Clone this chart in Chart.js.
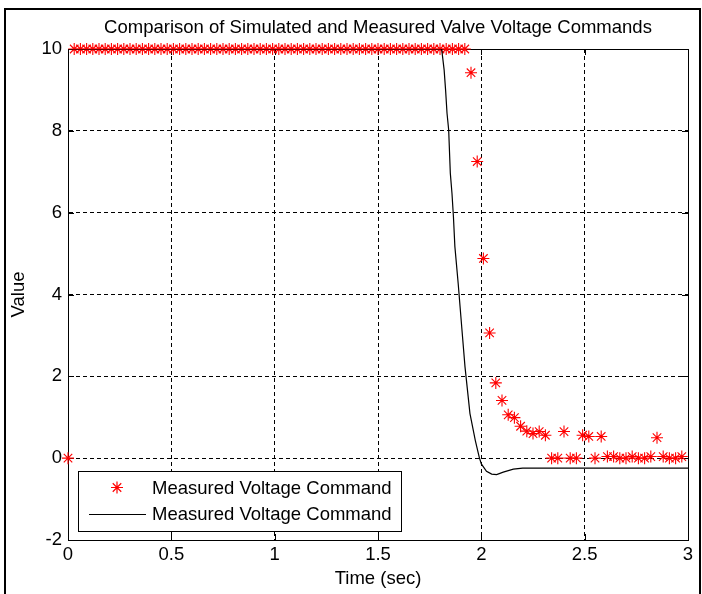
<!DOCTYPE html>
<html><head><meta charset="utf-8">
<script src="https://cdn.jsdelivr.net/npm/chart.js@4.4.1/dist/chart.umd.min.js"></script>
<style>
html,body{margin:0;padding:0;background:#fff;width:702px;height:594px;overflow:hidden;}
#wrap{position:relative;width:702px;height:594px;}
#frame{position:absolute;left:4px;top:8px;width:697px;height:600px;box-sizing:border-box;border:2px solid #000;border-bottom:none;pointer-events:none;}
canvas{position:absolute;left:0;top:0;}
</style></head>
<body><div id="wrap"><div id="frame"></div><canvas id="c" width="702" height="594"></canvas></div>
<script>
const titleText = 'Comparison of Simulated and Measured Valve Voltage Commands';
const xLabel = 'Time (sec)';
const yLabel = 'Value';
const legendLabels = ['Measured Voltage Command', 'Measured Voltage Command'];
const xTicks = [0, 0.5, 1, 1.5, 2, 2.5, 3];
const yTicks = [-2, 0, 2, 4, 6, 8, 10];

const measTime = [
  0,0.03,0.06,0.09,0.12,0.15,0.18,0.21,0.24,0.27,
  0.30,0.33,0.36,0.39,0.42,0.45,0.48,0.51,0.54,0.57,
  0.60,0.63,0.66,0.69,0.72,0.75,0.78,0.81,0.84,0.87,
  0.90,0.93,0.96,0.99,1.02,1.05,1.08,1.11,1.14,1.17,
  1.20,1.23,1.26,1.29,1.32,1.35,1.38,1.41,1.44,1.47,
  1.50,1.53,1.56,1.59,1.62,1.65,1.68,1.71,1.74,1.77,
  1.80,1.83,1.86,1.89,1.92,1.95,1.98,2.01,2.04,2.07,
  2.10,2.13,2.16,2.19,2.22,2.25,2.28,2.31,2.34,2.37,
  2.40,2.43,2.46,2.49,2.52,2.55,2.58,2.61,2.64,2.67,
  2.70,2.73,2.76,2.79,2.82,2.85,2.88,2.91,2.94,2.97
];
const measValue = [
  0,10,10,10,10,10,10,10,10,10,
  10,10,10,10,10,10,10,10,10,10,
  10,10,10,10,10,10,10,10,10,10,
  10,10,10,10,10,10,10,10,10,10,
  10,10,10,10,10,10,10,10,10,10,
  10,10,10,10,10,10,10,10,10,10,
  10,10,10,10,10,9.42,7.25,4.88,3.06,1.84,
  1.41,1.06,0.99,0.78,0.66,0.60,0.65,0.56,0,0,
  0.65,0,0,0.56,0.53,0,0.53,0.04,0.04,0,
  0,0.04,0,0,0.04,0.5,0.04,0,0,0.04
];

const simTime = [0,1.808,1.82,1.827,1.834,1.842,1.85,1.858,1.865,1.872,1.888,1.905,1.921,1.945,1.971,1.99,2.0,2.025,2.05,2.074,2.106,2.155,2.2,3.0];
const simValue = [10,10,9.49,9.0,8.43,8.02,6.96,6.47,5.9,5.17,4.27,3.21,2.23,1.09,0.43,0.02,-0.14,-0.32,-0.39,-0.40,-0.34,-0.27,-0.245,-0.245];

const FF = '"Liberation Sans", Arial, Helvetica, sans-serif';
const FS = 18.5;

function drawStar(ctx, x, y, r) {
  const d = r * Math.cos(Math.PI / 4);
  ctx.beginPath();
  ctx.moveTo(x - r, y); ctx.lineTo(x + r, y);
  ctx.moveTo(x, y - r); ctx.lineTo(x, y + r);
  ctx.moveTo(x - d, y - d); ctx.lineTo(x + d, y + d);
  ctx.moveTo(x - d, y + d); ctx.lineTo(x + d, y - d);
  ctx.stroke();
}

const boxPlugin = {
  id: 'matlabBox',
  beforeDatasetsDraw(chart) {
    const ctx = chart.ctx, ca = chart.chartArea;
    const xs = chart.scales.x, ys = chart.scales.y;
    ctx.save();
    ctx.strokeStyle = '#000';
    ctx.lineWidth = 1;
    ctx.setLineDash([]);
    ctx.strokeRect(Math.round(ca.left) + 0.5, Math.round(ca.top) + 0.5, Math.round(ca.right - ca.left), Math.round(ca.bottom - ca.top));
    const tl = 6;
    ctx.beginPath();
    xTicks.forEach(v => {
      const px = Math.round(xs.getPixelForValue(v)) + 0.5;
      ctx.moveTo(px, ca.bottom); ctx.lineTo(px, ca.bottom - tl);
      ctx.moveTo(px, ca.top); ctx.lineTo(px, ca.top + tl);
    });
    yTicks.forEach(v => {
      const py = Math.round(ys.getPixelForValue(v)) + 0.5;
      ctx.moveTo(ca.left, py); ctx.lineTo(ca.left + tl, py);
      ctx.moveTo(ca.right, py); ctx.lineTo(ca.right - tl, py);
    });
    ctx.stroke();
    ctx.restore();
  },
  afterDraw(chart) {
    const ctx = chart.ctx, ca = chart.chartArea;
    const x0 = Math.round(ca.left) + 10, w = 323, h = 60;
    const y1 = Math.round(ca.bottom) - 9, y0 = y1 - h;
    ctx.save();
    ctx.setLineDash([]);
    ctx.fillStyle = '#fff';
    ctx.fillRect(x0, y0, w, h);
    ctx.strokeStyle = '#000';
    ctx.lineWidth = 1;
    ctx.strokeRect(x0 + 0.5, y0 + 0.5, w, h);
    ctx.strokeStyle = '#ff0000';
    ctx.lineWidth = 1.2;
    drawStar(ctx, x0 + 39, y0 + 16.5, 6);
    ctx.strokeStyle = '#000';
    ctx.lineWidth = 1;
    ctx.beginPath();
    ctx.moveTo(x0 + 11, y0 + 43.5); ctx.lineTo(x0 + 68, y0 + 43.5);
    ctx.stroke();
    ctx.fillStyle = '#000';
    ctx.font = FS + 'px ' + FF;
    ctx.textBaseline = 'middle';
    ctx.textAlign = 'left';
    ctx.fillText(legendLabels[0], x0 + 74, y0 + 17.5);
    ctx.fillText(legendLabels[1], x0 + 74, y0 + 43.5);
    ctx.restore();
  }
};

new Chart(document.getElementById('c'), {
  type: 'scatter',
  data: {
    datasets: [
      {
        label: legendLabels[0],
        data: measTime.map((t, i) => ({x: t, y: measValue[i]})),
        showLine: false,
        pointStyle: 'star',
        pointRadius: 6,
        pointHoverRadius: 6,
        pointBorderColor: '#ff0000',
        pointBackgroundColor: '#ff0000',
        pointBorderWidth: 1.1,
        clip: false,
        order: 2
      },
      {
        label: legendLabels[1],
        data: simTime.map((t, i) => ({x: t, y: simValue[i]})),
        showLine: true,
        borderColor: '#000',
        borderWidth: 1.2,
        pointRadius: 0,
        tension: 0,
        fill: false,
        order: 1
      }
    ]
  },
  options: {
    responsive: false,
    animation: false,
    devicePixelRatio: 1,
    events: [],
    layout: {padding: {left: 0, right: 14, top: 0, bottom: 0}},
    plugins: {
      legend: {display: false},
      tooltip: {enabled: false},
      title: {
        display: true, text: titleText, color: '#000', fullSize: false,
        font: {family: FF, size: FS, weight: 'normal', lineHeight: 1.2},
        padding: {top: 16.5, bottom: 10.3}
      }
    },
    scales: {
      x: {
        type: 'linear', min: 0, max: 3,
        afterBuildTicks: s => { s.ticks = xTicks.map(v => ({value: v})); },
        afterFit: s => { s.height = 54; },
        ticks: {color: '#000', font: {family: FF, size: FS}, padding: 4, maxRotation: 0, autoSkip: false, callback: v => String(v)},
        grid: {color: '#000', lineWidth: 1, drawTicks: false},
        border: {display: true, color: '#000', width: 1, dash: [4, 3]},
        title: {display: true, text: xLabel, color: '#000', font: {family: FF, size: FS}, padding: {top: 0, bottom: 4}}
      },
      y: {
        type: 'linear', min: -2, max: 10,
        afterBuildTicks: s => { s.ticks = yTicks.map(v => ({value: v})); },
        afterFit: s => { s.width = 68; },
        ticks: {color: '#000', font: {family: FF, size: FS}, padding: 6, autoSkip: false, callback: v => String(v)},
        grid: {color: '#000', lineWidth: 1, drawTicks: false},
        border: {display: true, color: '#000', width: 1, dash: [4, 3]},
        title: {display: true, text: yLabel, color: '#000', font: {family: FF, size: FS}, padding: {top: 8, bottom: 0}}
      }
    }
  },
  plugins: [boxPlugin]
});
</script>
</body></html>
